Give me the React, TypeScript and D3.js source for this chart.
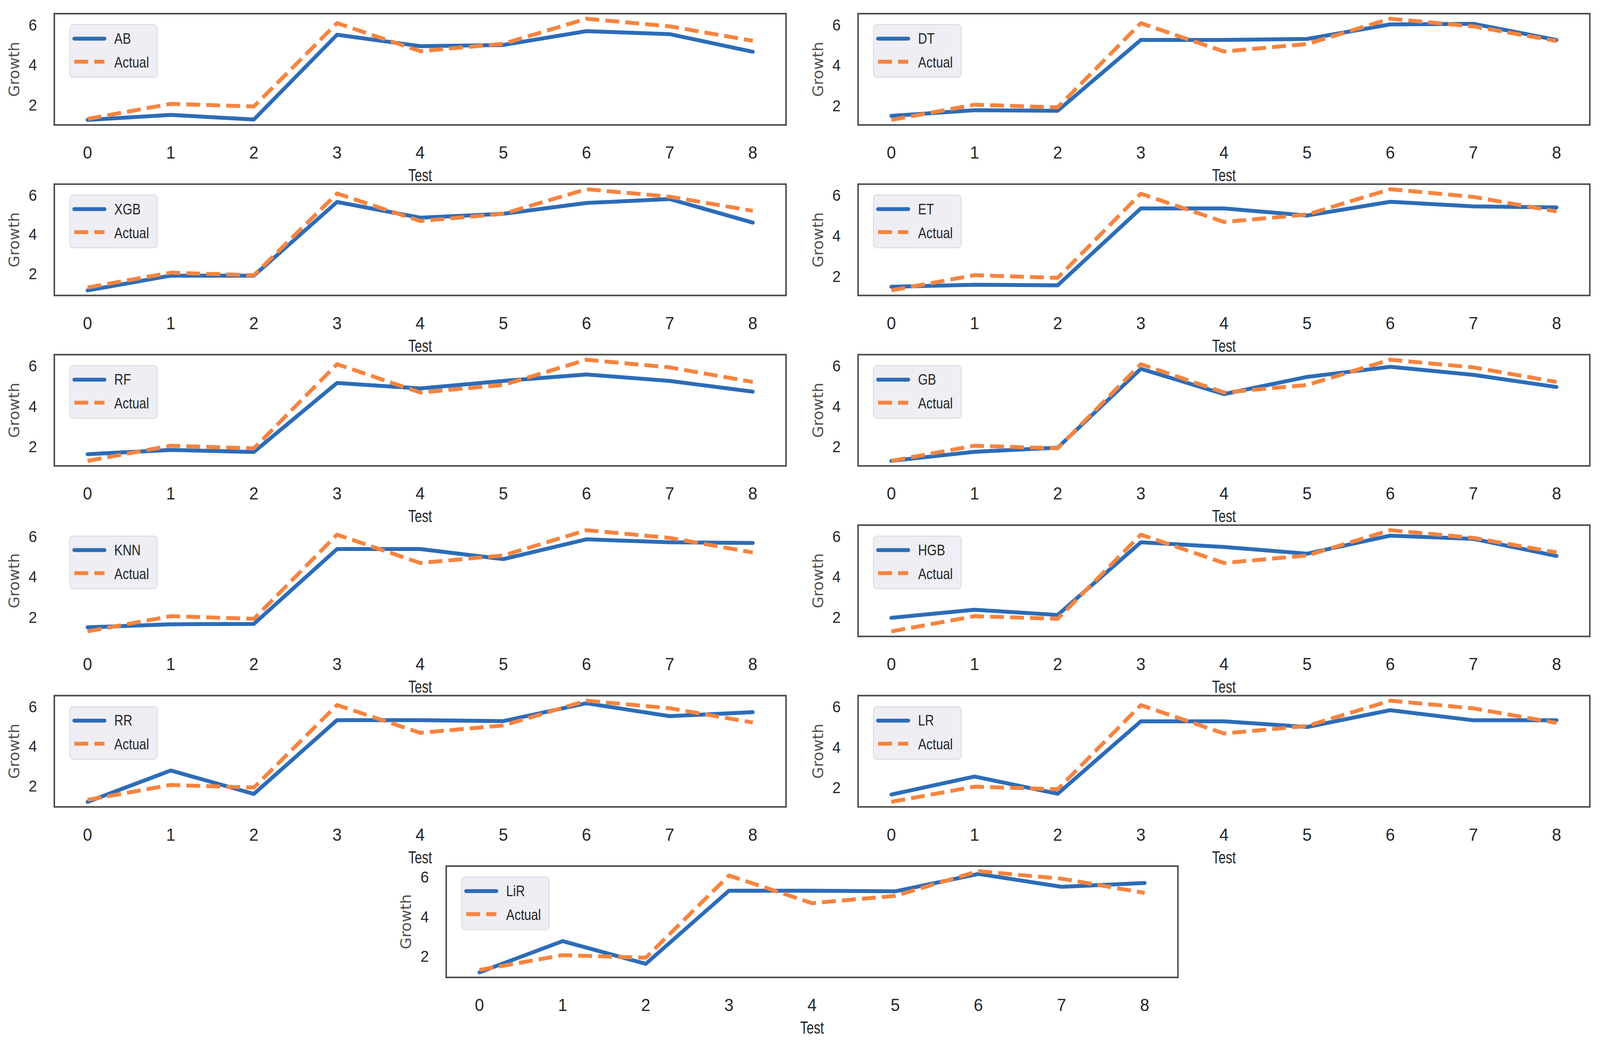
import React from 'react';
import * as d3 from 'd3';

const tests = [0, 1, 2, 3, 4, 5, 6, 7, 8];
const yTicks = [2, 4, 6];
const actual = [1.3, 2.05, 1.92, 6.08, 4.68, 5.05, 6.3, 5.92, 5.2];

const predAB = [1.25, 1.5, 1.27, 5.5, 4.93, 4.99, 5.68, 5.53, 4.65];
const predDT = [1.5, 1.78, 1.75, 5.25, 5.25, 5.3, 6.02, 6.05, 5.25];
const predXGB = [1.15, 1.9, 1.9, 5.65, 4.85, 5.05, 5.6, 5.8, 4.6];
const predET = [1.48, 1.58, 1.55, 5.35, 5.35, 5.0, 5.68, 5.45, 5.4];
const predRF = [1.63, 1.84, 1.74, 5.15, 4.88, 5.25, 5.57, 5.25, 4.72];
const predGB = [1.3, 1.75, 1.95, 5.85, 4.6, 5.45, 5.95, 5.55, 4.95];
const predKNN = [1.5, 1.65, 1.67, 5.37, 5.37, 4.87, 5.85, 5.7, 5.67];
const predHGB = [1.97, 2.37, 2.11, 5.7, 5.47, 5.14, 6.03, 5.87, 5.03];
const predRR = [1.2, 2.78, 1.6, 5.32, 5.32, 5.27, 6.17, 5.52, 5.72];
const predLR = [1.66, 2.55, 1.7, 5.28, 5.28, 5.0, 5.83, 5.33, 5.33];
const predLiR = [1.18, 2.76, 1.61, 5.31, 5.31, 5.28, 6.16, 5.51, 5.7];

const models = ['AB', 'DT', 'XGB', 'ET', 'RF', 'GB', 'KNN', 'HGB', 'RR', 'LR', 'LiR'];
const preds = [predAB, predDT, predXGB, predET, predRF, predGB, predKNN, predHGB, predRR, predLR, predLiR];

const W = 4242;
const H = 2671;
const PW = 1940;
const PH = 285;
const colX = [144, 2275];
const lirX = 1183;
const rowTop = (i: number) => 35 + i * 436.6;

const BLUE = '#2c6cb8';
const ORANGE = '#f6843f';
const SANS = '"Liberation Sans", Arial, sans-serif';

function Panel({ name, pred, x0, y0, framed }: { name: string; pred: number[]; x0: number; y0: number; framed: boolean }) {
  const xs = d3.scaleLinear().domain([-0.4, 8.4]).range([x0, x0 + PW]);
  const all = pred.concat(actual);
  const [mn, mx] = d3.extent(all) as [number, number];
  const pad = (mx - mn) * 0.05;
  const ys = d3.scaleLinear().domain([mn - pad, mx + pad]).range([y0 + PH, y0]);
  const line = d3
    .line<number>()
    .x((_, i) => xs(tests[i]))
    .y((d) => ys(d));
  const yb = y0 + PH;
  const lx = x0 + 41;
  const ly = y0 + 28;
  return (
    <g>
      {framed && (
        <rect x={x0} y={y0} width={PW} height={PH} fill="none" stroke="#4a4a4a" strokeWidth={4} />
      )}
      <path d={line(pred) || ''} fill="none" stroke={BLUE} strokeWidth={10} strokeLinejoin="round" strokeLinecap="round" />
      <path d={line(actual) || ''} fill="none" stroke={ORANGE} strokeWidth={10} strokeDasharray="37,16" strokeLinejoin="round" />
      {tests.map((t) => (
        <text key={'x' + t} x={xs(t)} y={yb + 71} fontSize={44} fontFamily={SANS} fill="#262626" textAnchor="middle" dominantBaseline="central">
          {t}
        </text>
      ))}
      {yTicks.map((t) => (
        <text key={'y' + t} x={x0 - 46} y={ys(t)} fontSize={40} fontFamily={SANS} fill="#262626" textAnchor="end" dominantBaseline="central">
          {t}
        </text>
      ))}
      <text
        transform={`translate(${x0 + PW / 2},${yb + 129}) scale(0.78,1)`}
        fontSize={44}
        fontFamily={SANS}
        fill="#262626"
        textAnchor="middle"
        dominantBaseline="central"
      >
        Test
      </text>
      <text
        transform={`translate(${x0 - 107},${y0 + PH / 2}) rotate(-90)`}
        fontSize={39}
        fontFamily='"DejaVu Sans", sans-serif'
        fill="#505050"
        textAnchor="middle"
        dominantBaseline="central"
      >
        Growth
      </text>
      <rect x={lx} y={ly} width={232} height={135} rx={9} fill="#eeeef4" stroke="#d6d6de" strokeWidth={2} />
      <line x1={lx + 12} x2={lx + 92} y1={ly + 36} y2={ly + 36} stroke={BLUE} strokeWidth={10} strokeLinecap="round" />
      <line x1={lx + 12} x2={lx + 92} y1={ly + 95} y2={ly + 95} stroke={ORANGE} strokeWidth={10} strokeDasharray="37,16" />
      <text transform={`translate(${lx + 118},${ly + 49}) scale(0.85,1)`} fontSize={39} fontFamily={SANS} fill="#262626">
        {name}
      </text>
      <text transform={`translate(${lx + 118},${ly + 110}) scale(0.85,1)`} fontSize={39} fontFamily={SANS} fill="#262626">
        Actual
      </text>
    </g>
  );
}

export default function App() {
  return (
    <svg
      viewBox={`0 0 ${W} ${H}`}
      preserveAspectRatio="none"
      style={{ position: 'fixed', left: 0, top: 0, width: '100vw', height: '100vh', display: 'block', background: '#ffffff' }}
    >
      <rect x={0} y={0} width={W} height={H} fill="#ffffff" />
      {models.map((m, i) => {
        const isLast = i === models.length - 1;
        const row = Math.floor(i / 2);
        const x0 = isLast ? lirX : colX[i % 2];
        return <Panel key={m} name={m} pred={preds[i]} x0={x0} y0={rowTop(row)} framed={m !== 'KNN'} />;
      })}
    </svg>
  );
}
